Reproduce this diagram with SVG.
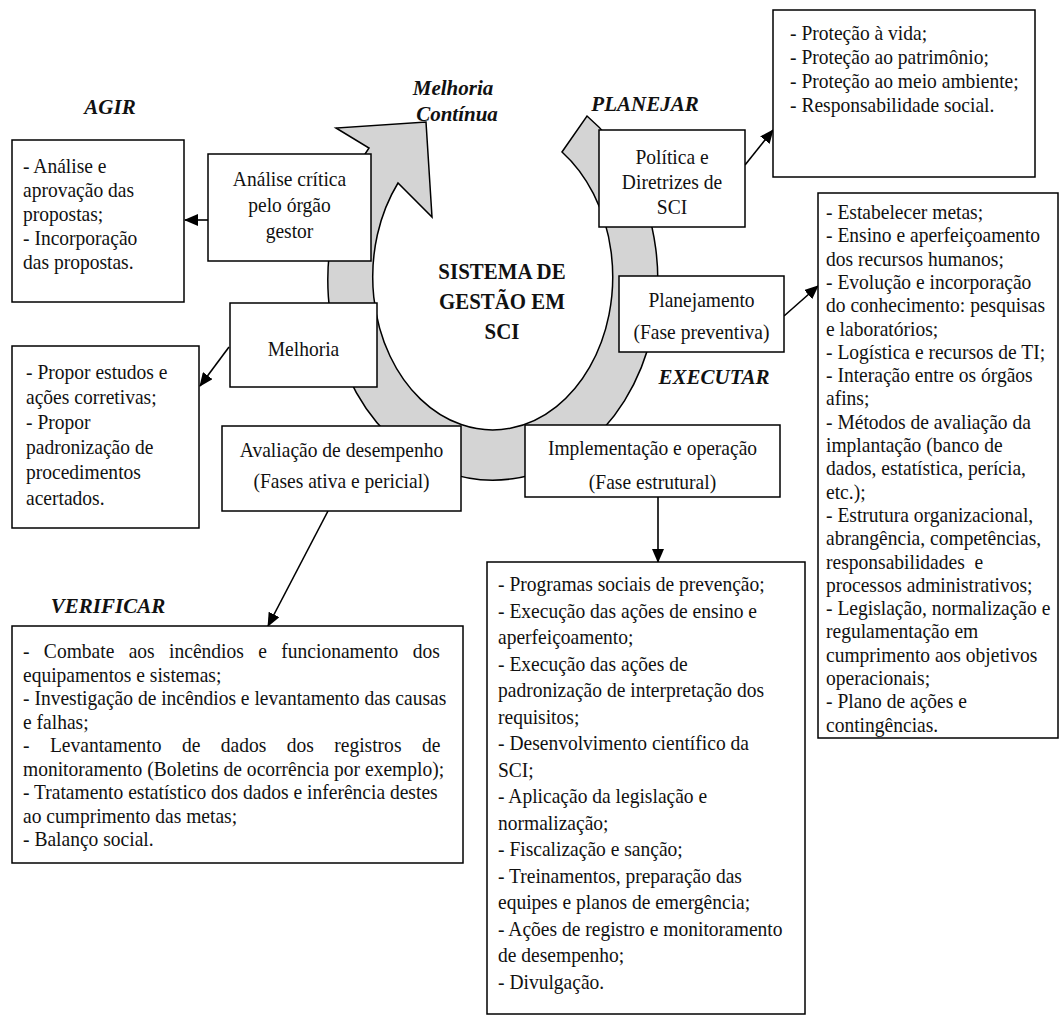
<svg xmlns="http://www.w3.org/2000/svg" width="1062" height="1016" viewBox="0 0 1062 1016">
<defs>
<marker id="ah" markerWidth="14" markerHeight="12" refX="13" refY="6" orient="auto" markerUnits="userSpaceOnUse">
<path d="M0,0 L14,6 L0,12 Z" fill="#000"/>
</marker>
<style>
.box{fill:#fff;stroke:#000;stroke-width:1.5}
.t{font-family:"Liberation Serif","Times New Roman",serif;font-size:21px;fill:#111}
.c{text-anchor:middle}
.lbl{font-family:"Liberation Serif","Times New Roman",serif;font-size:21px;font-weight:bold;font-style:italic;fill:#111;text-anchor:middle}
.ctr{font-family:"Liberation Serif","Times New Roman",serif;font-size:22.5px;font-weight:bold;fill:#111;text-anchor:middle}
.edge{stroke:#000;stroke-width:1.6;fill:none;marker-end:url(#ah)}
</style>
</defs>
<rect width="1062" height="1016" fill="#fff"/>

<g id="ring">
<path d="M587,116 A165 200 0 1 1 369,148 L336,128 L426,122 L432,217 L398,183 A120 153 0 1 0 562,152 Z" fill="#d4d4d4" stroke="#000" stroke-width="1.5"/>
<text class="ctr" transform="translate(502 279) scale(.93 1)">SISTEMA DE</text>
<text class="ctr" transform="translate(502 309) scale(.93 1)">GESTÃO EM</text>
<text class="ctr" transform="translate(502 339) scale(.93 1)">SCI</text>
</g>

<g id="labels">
<text class="lbl" x="453" y="95">Melhoria</text>
<text class="lbl" x="457" y="121">Contínua</text>
<text class="lbl" x="110" y="114">AGIR</text>
<text class="lbl" x="645" y="111">PLANEJAR</text>
<text class="lbl" x="714" y="384">EXECUTAR</text>
<text class="lbl" x="108" y="613">VERIFICAR</text>
</g>

<g id="connectors">
<line class="edge" x1="208" y1="220" x2="185" y2="220"/>
<line class="edge" x1="229" y1="347" x2="200" y2="386"/>
<line class="edge" x1="328" y1="511" x2="268" y2="626"/>
<line class="edge" x1="745" y1="165" x2="773" y2="130"/>
<line class="edge" x1="784" y1="316" x2="818" y2="286"/>
<line class="edge" x1="658" y1="497" x2="658" y2="562"/>
</g>

<g id="agir-list">
<rect class="box" x="12" y="140" width="172" height="162"/>
<text class="t" transform="translate(23 173) scale(.93 1)">- Análise e</text>
<text class="t" transform="translate(23 197) scale(.93 1)">aprovação das</text>
<text class="t" transform="translate(23 221) scale(.93 1)">propostas;</text>
<text class="t" transform="translate(23 245) scale(.93 1)">- Incorporação</text>
<text class="t" transform="translate(23 269) scale(.93 1)">das propostas.</text>
</g>

<g id="analise">
<rect class="box" x="208" y="154" width="163" height="107"/>
<text class="t c" transform="translate(289.5 186) scale(.93 1)">Análise crítica</text>
<text class="t c" transform="translate(289.5 212) scale(.93 1)">pelo órgão</text>
<text class="t c" transform="translate(289.5 238) scale(.93 1)">gestor</text>
</g>

<g id="melhoria">
<rect class="box" x="230" y="303" width="147" height="84"/>
<text class="t c" transform="translate(303.5 356) scale(.93 1)">Melhoria</text>
</g>

<g id="propor-list">
<rect class="box" x="12" y="346" width="187" height="182"/>
<text class="t" transform="translate(26 379) scale(.93 1)">- Propor estudos e</text>
<text class="t" transform="translate(26 404) scale(.93 1)">ações corretivas;</text>
<text class="t" transform="translate(26 429) scale(.93 1)">- Propor</text>
<text class="t" transform="translate(26 454) scale(.93 1)">padronização de</text>
<text class="t" transform="translate(26 479) scale(.93 1)">procedimentos</text>
<text class="t" transform="translate(26 505) scale(.93 1)">acertados.</text>
</g>

<g id="avaliacao">
<rect class="box" x="222" y="426" width="239" height="85"/>
<text class="t c" transform="translate(341.5 457) scale(.93 1)">Avaliação de desempenho</text>
<text class="t c" transform="translate(341.5 488) scale(.93 1)">(Fases ativa e pericial)</text>
</g>

<g id="verificar-list">
<rect class="box" x="12" y="626" width="451" height="237"/>
<text class="t" transform="translate(23 658) scale(.93 1)" word-spacing="10.2">- Combate aos incêndios e funcionamento dos</text>
<text class="t" transform="translate(23 681.5) scale(.93 1)">equipamentos e sistemas;</text>
<text class="t" transform="translate(23 705) scale(.93 1)">- Investigação de incêndios e levantamento das causas</text>
<text class="t" transform="translate(23 728.5) scale(.93 1)">e falhas;</text>
<text class="t" transform="translate(23 752) scale(.93 1)" word-spacing="16.7">- Levantamento de dados dos registros de</text>
<text class="t" transform="translate(23 775.5) scale(.93 1)">monitoramento (Boletins de ocorrência por exemplo);</text>
<text class="t" transform="translate(23 799) scale(.93 1)">- Tratamento estatístico dos dados e inferência destes</text>
<text class="t" transform="translate(23 822.5) scale(.93 1)">ao cumprimento das metas;</text>
<text class="t" transform="translate(23 846) scale(.93 1)">- Balanço social.</text>
</g>

<g id="politica">
<rect class="box" x="599" y="130" width="146" height="97"/>
<text class="t c" transform="translate(672 164) scale(.93 1)">Política e</text>
<text class="t c" transform="translate(672 189) scale(.93 1)">Diretrizes de</text>
<text class="t c" transform="translate(672 214) scale(.93 1)">SCI</text>
</g>

<g id="protecao-list">
<rect class="box" x="773" y="10" width="262" height="167"/>
<text class="t" transform="translate(790 40) scale(.93 1)">- Proteção à vida;</text>
<text class="t" transform="translate(790 64) scale(.93 1)">- Proteção ao patrimônio;</text>
<text class="t" transform="translate(790 88) scale(.93 1)">- Proteção ao meio ambiente;</text>
<text class="t" transform="translate(790 112) scale(.93 1)">- Responsabilidade social.</text>
</g>

<g id="planejamento">
<rect class="box" x="619" y="276" width="165" height="76"/>
<text class="t c" transform="translate(701.5 307) scale(.93 1)">Planejamento</text>
<text class="t c" transform="translate(701.5 339) scale(.93 1)">(Fase preventiva)</text>
</g>

<g id="planejamento-list">
<rect class="box" x="818" y="193" width="240" height="545"/>
<text class="t" transform="translate(826 219) scale(.93 1)">- Estabelecer metas;</text>
<text class="t" transform="translate(826 242.3) scale(.93 1)">- Ensino e aperfeiçoamento</text>
<text class="t" transform="translate(826 265.6) scale(.93 1)">dos recursos humanos;</text>
<text class="t" transform="translate(826 288.9) scale(.93 1)">- Evolução e incorporação</text>
<text class="t" transform="translate(826 312.2) scale(.93 1)">do conhecimento: pesquisas</text>
<text class="t" transform="translate(826 335.5) scale(.93 1)">e laboratórios;</text>
<text class="t" transform="translate(826 358.8) scale(.93 1)">- Logística e recursos de TI;</text>
<text class="t" transform="translate(826 382.1) scale(.93 1)">- Interação entre os órgãos</text>
<text class="t" transform="translate(826 405.4) scale(.93 1)">afins;</text>
<text class="t" transform="translate(826 428.7) scale(.93 1)">- Métodos de avaliação da</text>
<text class="t" transform="translate(826 452) scale(.93 1)">implantação (banco de</text>
<text class="t" transform="translate(826 475.3) scale(.93 1)">dados, estatística, perícia,</text>
<text class="t" transform="translate(826 498.6) scale(.93 1)">etc.);</text>
<text class="t" transform="translate(826 521.9) scale(.93 1)">- Estrutura organizacional,</text>
<text class="t" transform="translate(826 545.2) scale(.93 1)">abrangência, competências,</text>
<text class="t" transform="translate(826 568.5) scale(.93 1)" xml:space="preserve">responsabilidades  e</text>
<text class="t" transform="translate(826 591.8) scale(.93 1)">processos administrativos;</text>
<text class="t" transform="translate(826 615.1) scale(.93 1)">- Legislação, normalização e</text>
<text class="t" transform="translate(826 638.4) scale(.93 1)">regulamentação em</text>
<text class="t" transform="translate(826 661.7) scale(.93 1)">cumprimento aos objetivos</text>
<text class="t" transform="translate(826 685) scale(.93 1)">operacionais;</text>
<text class="t" transform="translate(826 708.3) scale(.93 1)">- Plano de ações e</text>
<text class="t" transform="translate(826 731.6) scale(.93 1)">contingências.</text>
</g>

<g id="implementacao">
<rect class="box" x="525" y="425" width="255" height="72"/>
<text class="t c" transform="translate(652.5 455) scale(.93 1)">Implementação e operação</text>
<text class="t c" transform="translate(652.5 489) scale(.93 1)">(Fase estrutural)</text>
</g>

<g id="execucao-list">
<rect class="box" x="487" y="562" width="318" height="452"/>
<text class="t" transform="translate(498 591) scale(.93 1)">- Programas sociais de prevenção;</text>
<text class="t" transform="translate(498 617.5) scale(.93 1)">- Execução das ações de ensino e</text>
<text class="t" transform="translate(498 644) scale(.93 1)">aperfeiçoamento;</text>
<text class="t" transform="translate(498 670.5) scale(.93 1)">- Execução das ações de</text>
<text class="t" transform="translate(498 697) scale(.93 1)">padronização de interpretação dos</text>
<text class="t" transform="translate(498 723.5) scale(.93 1)">requisitos;</text>
<text class="t" transform="translate(498 750) scale(.93 1)">- Desenvolvimento científico da</text>
<text class="t" transform="translate(498 776.5) scale(.93 1)">SCI;</text>
<text class="t" transform="translate(498 803) scale(.93 1)">- Aplicação da legislação e</text>
<text class="t" transform="translate(498 829.5) scale(.93 1)">normalização;</text>
<text class="t" transform="translate(498 856) scale(.93 1)">- Fiscalização e sanção;</text>
<text class="t" transform="translate(498 882.5) scale(.93 1)">- Treinamentos, preparação das</text>
<text class="t" transform="translate(498 909) scale(.93 1)">equipes e planos de emergência;</text>
<text class="t" transform="translate(498 935.5) scale(.93 1)">- Ações de registro e monitoramento</text>
<text class="t" transform="translate(498 962) scale(.93 1)">de desempenho;</text>
<text class="t" transform="translate(498 988.5) scale(.93 1)">- Divulgação.</text>
</g>
</svg>
